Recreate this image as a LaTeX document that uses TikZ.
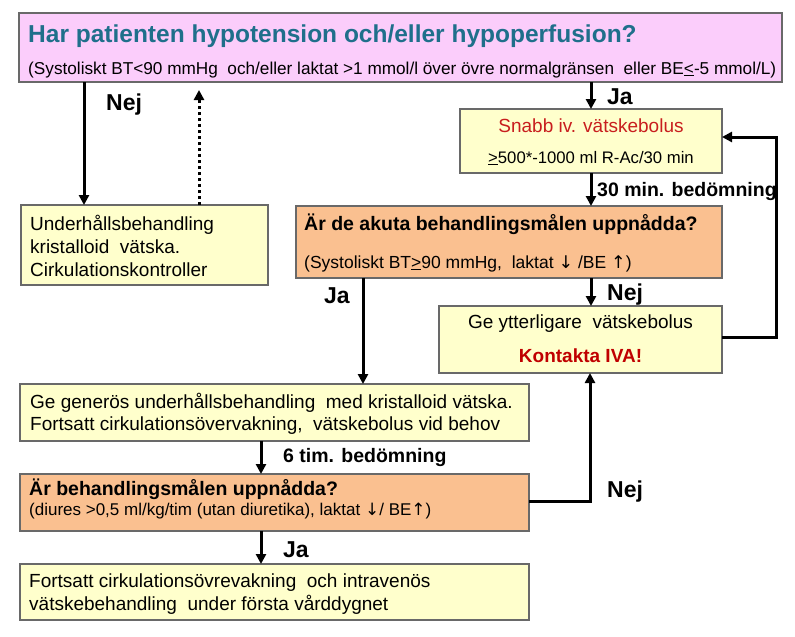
\documentclass[tikz,border=0pt]{standalone}
\usepackage{fontspec}
\setmainfont{Liberation Sans}
\newfontfamily\arrowfont{DejaVu Sans}
\usetikzlibrary{arrows.meta}
\definecolor{pinkbg}{RGB}{251,205,251}
\definecolor{yellowbg}{RGB}{255,255,204}
\definecolor{orangebg}{RGB}{250,192,144}
\definecolor{boxline}{RGB}{105,105,105}
\definecolor{titlecol}{RGB}{31,111,139}
\definecolor{redA}{RGB}{200,30,30}
\definecolor{redB}{RGB}{192,0,0}
\newcommand{\dnarr}{{\arrowfont ↓}}
\newcommand{\uparr}{{\arrowfont ↑}}
\begin{document}
\begin{tikzpicture}[x=1pt,y=-1pt,
  box/.style={draw=boxline, line width=1.5pt, inner sep=0pt, outer sep=0pt},
  txt/.style={inner sep=0pt, anchor=base west, font=\fontsize{19}{23}\selectfont},
  ctxt/.style={inner sep=0pt, anchor=base, font=\fontsize{19}{23}\selectfont},
  lbl/.style={inner sep=0pt, anchor=base west, font=\fontsize{19.5}{23}\selectfont\bfseries},
  jn/.style={inner sep=0pt, anchor=base west, font=\fontsize{23}{27}\selectfont\bfseries},
  arr/.style={line width=3pt, -{Triangle[length=10pt,width=10pt]}},
  dotarr/.style={line width=3pt, dash pattern=on 3pt off 3pt, -{Triangle[length=10pt,width=10pt]}}
]
\useasboundingbox (0,0) rectangle (795,637);

% boxes
\node[box, fill=pinkbg, minimum width=763pt, minimum height=69pt] (top) at (400.5,47.5) {};
\node[box, fill=yellowbg, minimum width=247pt, minimum height=80pt] (left) at (144.5,245) {};
\node[box, fill=yellowbg, minimum width=262pt, minimum height=64pt] (snabb) at (591,141) {};
\node[box, fill=orangebg, minimum width=426pt, minimum height=72pt] (or1) at (509,242) {};
\node[box, fill=yellowbg, minimum width=283pt, minimum height=67pt] (geytt) at (580.5,339.5) {};
\node[box, fill=yellowbg, minimum width=509pt, minimum height=57pt] (gegen) at (274.5,412.5) {};
\node[box, fill=orangebg, minimum width=509pt, minimum height=57pt] (or2) at (274.5,502.5) {};
\node[box, fill=yellowbg, minimum width=509pt, minimum height=56pt] (final) at (274.5,592) {};

% texts
\node[txt, font=\fontsize{24.5}{29}\selectfont\bfseries, text=titlecol] (ttitle) at (28,42) {Har patienten hypotension och/eller hypoperfusion?};
\node[txt, font=\fontsize{17.2}{20}\selectfont] (tsub) at (28,74) {(Systoliskt BT<90 mmHg \ och/eller laktat >1 mmol/l över övre normalgränsen \ eller BE\underline{<}-5 mmol/L)};

\node[txt] (tl1) at (30,230) {Underhållsbehandling};
\node[txt] (tl2) at (30,253) {kristalloid \ vätska.};
\node[txt] (tl3) at (30,276) {Cirkulationskontroller};

\node[ctxt, text=redA] (ts1) at (591,132) {Snabb iv. vätskebolus};
\node[ctxt, font=\fontsize{16.7}{20}\selectfont] (ts2) at (591,163) {\underline{>}500*-1000 ml R-Ac/30 min};

\node[lbl] (to1) at (304,230) {Är de akuta behandlingsmålen uppnådda?};
\node[txt, font=\fontsize{17.5}{21}\selectfont] (to2) at (304,268) {(Systoliskt BT\underline{>}90 mmHg, \ laktat \dnarr\ /BE \uparr)};

\node[ctxt] (tg1) at (580.5,328) {Ge ytterligare \ vätskebolus};
\node[ctxt, font=\fontsize{19}{23}\selectfont\bfseries, text=redB] (tg2) at (580.5,362) {Kontakta IVA!};

\node[txt] (tgg1) at (30,408) {Ge generös underhållsbehandling \ med kristalloid vätska.};
\node[txt] (tgg2) at (30,430) {Fortsatt cirkulationsövervakning, \ vätskebolus vid behov};

\node[lbl] (tb1) at (29,495) {Är behandlingsmålen uppnådda?};
\node[txt, font=\fontsize{17}{20}\selectfont] (tb2) at (29,515) {(diures >0,5 ml/kg/tim (utan diuretika), laktat \dnarr/ BE\uparr)};

\node[txt] (tf1) at (29,587) {Fortsatt cirkulationsövrevakning \ och intravenös};
\node[txt] (tf2) at (29,610) {vätskebehandling \ under första vårddygnet};

% labels
\node[jn] (lnej1) at (106,110) {Nej};
\node[jn] (lja1) at (607,104) {Ja};
\node[lbl] (l30) at (597,196) {30 min. bedömning};
\node[jn] (lja2) at (324,303) {Ja};
\node[jn] (lnej2) at (607,300) {Nej};
\node[lbl] (l6) at (283,462) {6 tim. bedömning};
\node[jn] (lnej3) at (607,497) {Nej};
\node[jn] (lja3) at (283,557) {Ja};

% helper coordinates
\coordinate (xnej) at (84,0);
\coordinate (xdot) at (199,0);
\coordinate (ydot) at (0,90);
\coordinate (xja) at (591,0);
\coordinate (xjb) at (363,0);
\coordinate (xloop) at (776,0);
\coordinate (yin) at (0,137);
\coordinate (yout) at (0,337);
\coordinate (xmid) at (261,0);
\coordinate (xnej2) at (590,0);
\coordinate (ynej2) at (0,501);

% connectors
\draw[arr] (top.south -| xnej) -- (left.north -| xnej);
\draw[dotarr] (left.north -| xdot) -- (xdot |- ydot);
\draw[arr] (top.south -| xja) -- (snabb.north -| xja);
\draw[arr] (snabb.south -| xja) -- (or1.north -| xja);
\draw[arr] (or1.south -| xja) -- (geytt.north -| xja);
\draw[arr] (or1.south -| xjb) -- (gegen.north -| xjb);
\draw[arr] (geytt.east |- yout) -| (xloop |- yin) -- (snabb.east |- yin);
\draw[arr] (gegen.south -| xmid) -- (or2.north -| xmid);
\draw[arr] (or2.south -| xmid) -- (final.north -| xmid);
\draw[arr] (or2.east |- ynej2) -| (geytt.south -| xnej2);
\end{tikzpicture}
\end{document}
